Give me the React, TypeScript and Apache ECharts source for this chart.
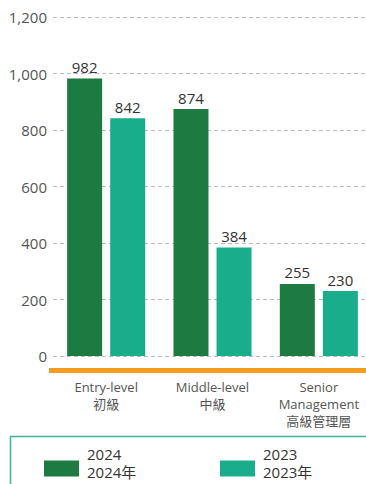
import React, { useEffect, useRef } from "react";
import * as echarts from "echarts";

const categories = ["Entry-level\n初級", "Middle-level\n中級", "Senior\nManagement\n高級管理層"];
const series2024 = [982, 874, 255];
const series2023 = [842, 384, 230];
const yTicks = { min: 0, max: 1200, interval: 200 };
const seriesNames = ["2024\n2024年", "2023\n2023年"];

const C2024 = "#1d7a40";
const C2023 = "#19ad8c";
const FONT = "'Open Sans', 'Noto Sans CJK TC', sans-serif";

export default function App() {
  const ref = useRef<HTMLDivElement>(null);
  useEffect(() => {
    if (!ref.current) return;
    const chart = echarts.init(ref.current, undefined, { renderer: "svg" });
    const labelCfg = {
      show: true,
      position: "top",
      distance: 4,
      color: "#333",
      fontSize: 15,
      fontFamily: FONT,
    };
    const legendText = {
      color: "#333",
      fontSize: 15,
      fontFamily: FONT,
      padding: [0, 0, 0, 3],
      rich: {
        a: { color: "#333", fontSize: 15, fontFamily: FONT, lineHeight: 18 },
        s: { fontSize: 1, lineHeight: 12 },
      },
    };
    const legendFormatter = (name: string) =>
      name
        .split("\n")
        .map((l) => `{a|${l}}`)
        .join("\n") + "\n{s|}";
    const legendBase = {
      top: 446,
      padding: 0,
      itemWidth: 35,
      itemHeight: 16,
      icon: "rect",
      textStyle: legendText,
      formatter: legendFormatter,
      selectedMode: false,
    };
    chart.setOption({
      animation: false,
      grid: {
        left: 53,
        width: 319,
        top: 17,
        bottom: 128,
        containLabel: false,
        outerBoundsMode: "none",
      },
      xAxis: {
        type: "category",
        data: categories,
        axisLine: { show: false },
        axisTick: { show: false },
        axisLabel: {
          color: "#555",
          fontSize: 13,
          fontFamily: FONT,
          lineHeight: 17,
          margin: 22,
          interval: 0,
        },
      },
      yAxis: {
        type: "value",
        min: yTicks.min,
        max: yTicks.max,
        interval: yTicks.interval,
        axisLine: { show: false },
        axisTick: { show: false },
        axisLabel: {
          color: "#555",
          fontSize: 15,
          fontFamily: FONT,
          margin: 6,
          formatter: (v: number) => v.toLocaleString("en-US"),
        },
        splitLine: { lineStyle: { color: "#bbb", type: [4, 3], width: 1 } },
      },
      legend: [
        { ...legendBase, data: [seriesNames[0]], left: 44 },
        { ...legendBase, data: [seriesNames[1]], left: 220 },
      ],
      graphic: [
        {
          type: "rect",
          shape: { x: 49, y: 368, width: 330, height: 5 },
          style: { fill: "#f39c1f" },
          silent: true,
        },
        {
          type: "rect",
          shape: { x: 10.5, y: 436.5, width: 380, height: 80 },
          style: { fill: "none", stroke: "#3db39a", lineWidth: 1.5 },
          silent: true,
        },
      ],
      series: [
        {
          name: seriesNames[0],
          type: "bar",
          data: series2024,
          barWidth: 35,
          barGap: "23%",
          itemStyle: { color: C2024 },
          label: labelCfg,
        },
        {
          name: seriesNames[1],
          type: "bar",
          data: series2023,
          barWidth: 35,
          itemStyle: { color: C2023 },
          label: labelCfg,
        },
      ],
    });
    return () => chart.dispose();
  }, []);
  return (
    <div
      ref={ref}
      style={{ position: "fixed", left: 0, top: 0, width: 366, height: 484, background: "#fff" }}
    />
  );
}
